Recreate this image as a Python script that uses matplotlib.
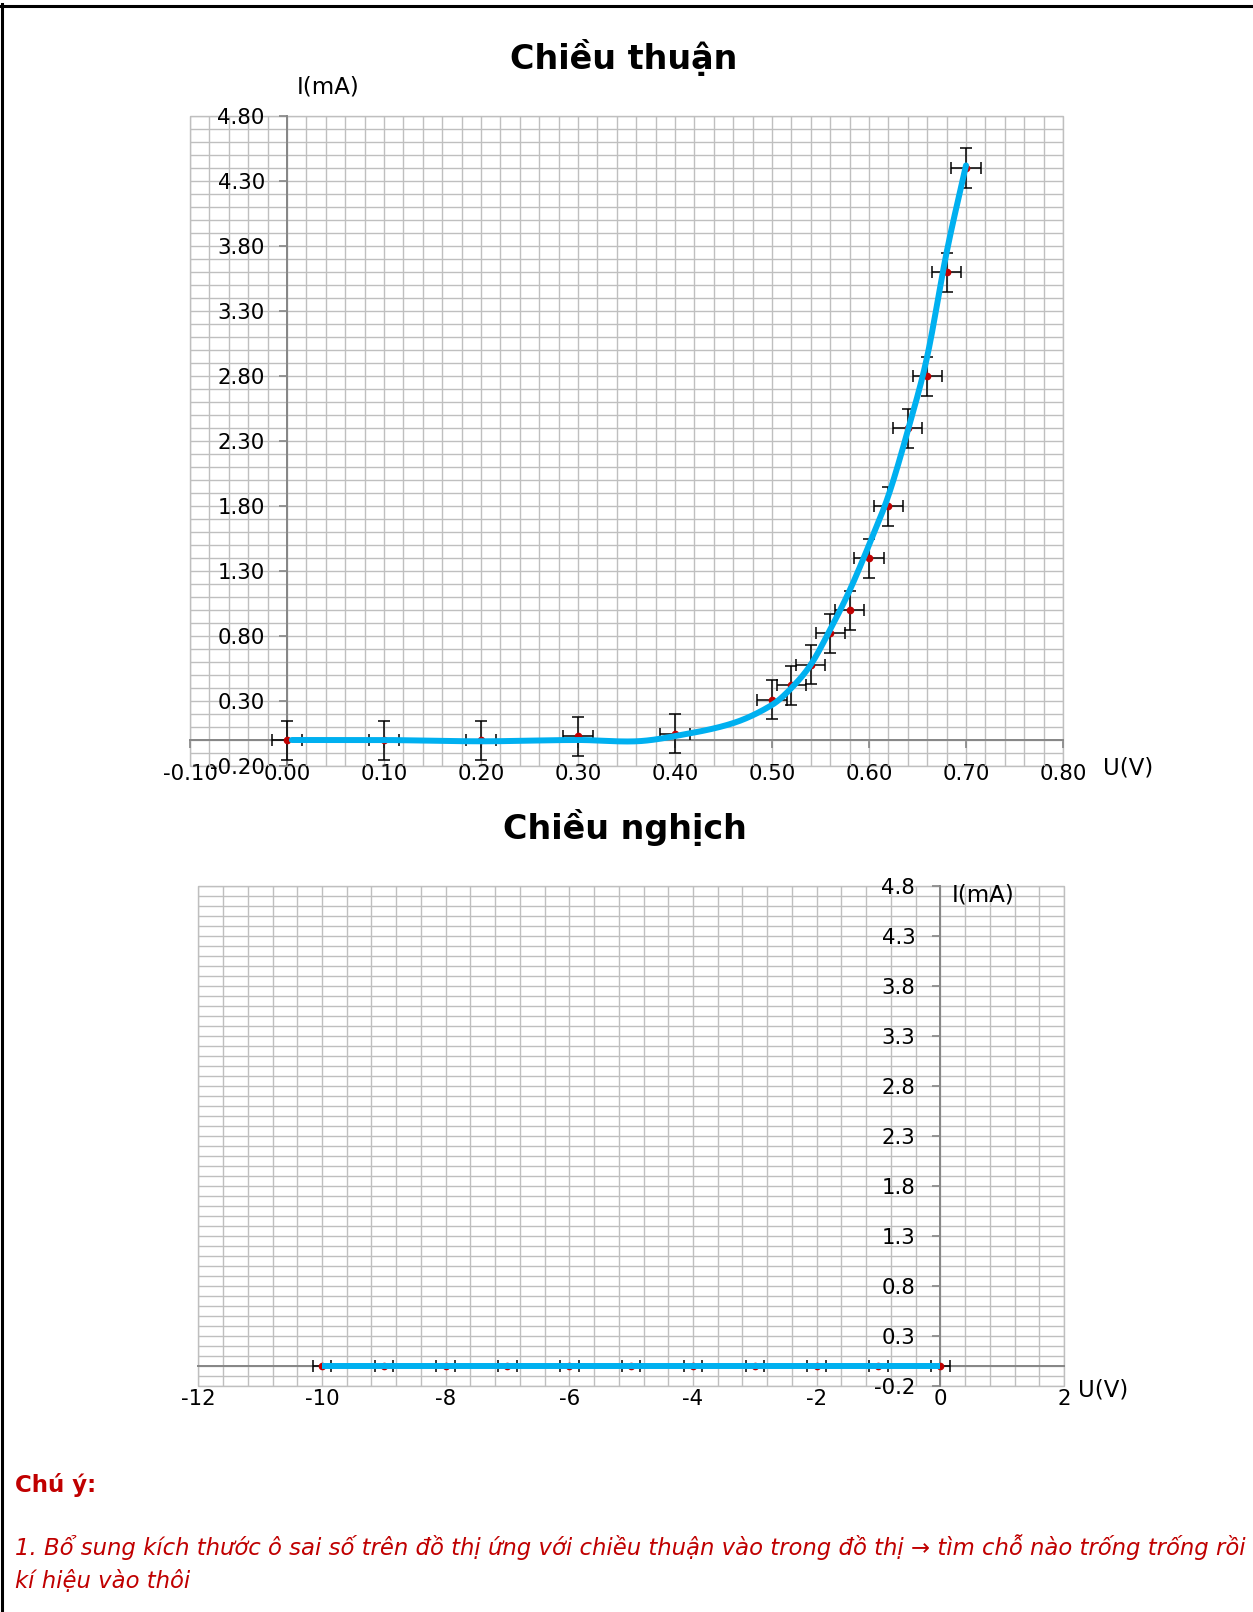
import numpy as np
import matplotlib
matplotlib.use("Agg")
import matplotlib.pyplot as plt
from matplotlib.ticker import MultipleLocator
from matplotlib.lines import Line2D
from matplotlib.patches import Rectangle

# ---------------- data ----------------
# forward bias (Chiều thuận) measured points
fwd_u = [0.00, 0.10, 0.20, 0.30, 0.40, 0.50, 0.52, 0.54, 0.56, 0.58, 0.60, 0.62, 0.64, 0.66, 0.68, 0.70]
fwd_i = [0.00, 0.00, 0.00, 0.03, 0.05, 0.31, 0.42, 0.58, 0.82, 1.00, 1.40, 1.80, 2.40, 2.80, 3.60, 4.40]
fwd_u_err = 0.015
fwd_i_err = 0.15

# hand-drawn smooth curve
curve_u = [0.005, 0.10, 0.20, 0.30, 0.36, 0.40, 0.46, 0.50, 0.52, 0.54, 0.56, 0.58, 0.60, 0.62, 0.64, 0.66, 0.68, 0.70]
curve_i = [0.00, 0.00, -0.01, 0.00, -0.01, 0.03, 0.13, 0.27, 0.40, 0.58, 0.85, 1.15, 1.50, 1.88, 2.38, 2.95, 3.75, 4.42]

fwd_xticks = [-0.10, 0.00, 0.10, 0.20, 0.30, 0.40, 0.50, 0.60, 0.70, 0.80]
fwd_yticks = [-0.20, 0.30, 0.80, 1.30, 1.80, 2.30, 2.80, 3.30, 3.80, 4.30, 4.80]

# reverse bias (Chiều nghịch)
rev_u = [-10, -9, -8, -7, -6, -5, -4, -3, -2, -1, 0]
rev_i = [0, 0, 0, 0, 0, 0, 0, 0, 0, 0, 0]
rev_u_err = 0.15

rev_xticks = [-12, -10, -8, -6, -4, -2, 0, 2]
rev_yticks = [-0.2, 0.3, 0.8, 1.3, 1.8, 2.3, 2.8, 3.3, 3.8, 4.3, 4.8]

title_fwd = "Chiều thuận"
title_rev = "Chiều nghịch"
note_head = "Chú ý:"
note_line1 = "1. Bổ sung kích thước ô sai số trên đồ thị ứng với chiều thuận vào trong đồ thị → tìm chỗ nào trống trống rồi"
note_line2 = "kí hiệu vào thôi"

# ---------------- style ----------------
W, H = 1253, 1612
BLUE = "#00B0F0"
RED = "#C00000"
GRID = "#BFBFBF"
AXC = "#868686"
TICK_FS = 15.3

plt.rcParams['font.family'] = ['DejaVu Sans']


def catmull(xs, ys, n=40):
    xs = np.asarray(xs, float)
    ys = np.asarray(ys, float)
    m = np.zeros_like(ys)
    m[1:-1] = (ys[2:] - ys[:-2]) / (xs[2:] - xs[:-2])
    m[0] = (ys[1] - ys[0]) / (xs[1] - xs[0])
    m[-1] = (ys[-1] - ys[-2]) / (xs[-1] - xs[-2])
    ox, oy = [], []
    for k in range(len(xs) - 1):
        h = xs[k + 1] - xs[k]
        t = np.linspace(0, 1, n, endpoint=False)
        h00 = 2 * t**3 - 3 * t**2 + 1
        h10 = t**3 - 2 * t**2 + t
        h01 = -2 * t**3 + 3 * t**2
        h11 = t**3 - t**2
        ox.append(xs[k] + t * h)
        oy.append(h00 * ys[k] + h10 * h * m[k] + h01 * ys[k + 1] + h11 * h * m[k + 1])
    ox.append([xs[-1]])
    oy.append([ys[-1]])
    return np.concatenate(ox), np.concatenate(oy)


def px_axes(l, t, r, b):
    return [l / W, 1 - b / H, (r - l) / W, (b - t) / H]


def style_axes(ax, xminor, yminor, ypad, xpad, xticklen):
    for s in ('top', 'right'):
        ax.spines[s].set_visible(False)
    ax.spines['left'].set_position(('data', 0))
    ax.spines['bottom'].set_position(('data', 0))
    for s in ('left', 'bottom'):
        ax.spines[s].set_color(AXC)
        ax.spines[s].set_linewidth(1.4)
        ax.spines[s].set_zorder(2)
    ax.xaxis.set_minor_locator(MultipleLocator(xminor))
    ax.yaxis.set_minor_locator(MultipleLocator(yminor))
    ax.grid(which='both', color=GRID, linewidth=1.0, zorder=0)
    ax.set_axisbelow(True)
    ax.tick_params(which='minor', length=0)
    ax.tick_params(axis='y', which='major', direction='out', length=6, width=1.2,
                   color=AXC, pad=ypad, labelsize=TICK_FS)
    ax.tick_params(axis='x', which='major', direction='out', length=xticklen, width=1.2,
                   color=AXC, pad=xpad, labelsize=TICK_FS)
    ax.add_patch(Rectangle((0, 0), 1, 1, transform=ax.transAxes, fill=False,
                           edgecolor=GRID, linewidth=1.0, clip_on=False, zorder=0.5))


fig = plt.figure(figsize=(W / 100, H / 100), dpi=100)

# ---------------- forward chart ----------------
ax1 = fig.add_axes(px_axes(190, 116, 1063, 766))
ax1.set_xlim(-0.1, 0.8)
ax1.set_ylim(-0.2, 4.8)
style_axes(ax1, 0.02, 0.1, ypad=10, xpad=11, xticklen=6)
ax1.set_xticks(fwd_xticks, labels=[f"{v:.2f}" for v in fwd_xticks])
ax1.set_yticks(fwd_yticks, labels=[f"{v:.2f}" for v in fwd_yticks])

ax1.errorbar(fwd_u, fwd_i, xerr=fwd_u_err, yerr=fwd_i_err, fmt='o', color=RED,
             markersize=4.5, ecolor='black', elinewidth=1.1, capsize=4, capthick=1.1,
             zorder=3)
cx, cy = catmull(curve_u, curve_i)
ax1.plot(cx, cy, color=BLUE, linewidth=4.3, solid_capstyle='round', zorder=4)

# ---------------- reverse chart ----------------
ax2 = fig.add_axes(px_axes(198.3, 885.7, 1064, 1385.8))
ax2.set_xlim(-12, 2)
ax2.set_ylim(-0.2, 4.8)
style_axes(ax2, 0.4, 0.1, ypad=12, xpad=17, xticklen=0)
ax2.set_xticks(rev_xticks, labels=[f"{v:d}" for v in rev_xticks])
ax2.set_yticks(rev_yticks, labels=[f"{v:.1f}" for v in rev_yticks])

ax2.errorbar(rev_u, rev_i, xerr=rev_u_err, fmt='o', color=RED, markersize=4.5,
             ecolor='black', elinewidth=1.1, capsize=4, capthick=1.1, zorder=3)
ax2.plot(rev_u, rev_i, color=BLUE, linewidth=4.3, solid_capstyle='butt', zorder=4)


# ---------------- texts ----------------
def ftext(x, y, s, **kw):
    fig.text(x / W, 1 - y / H, s, **kw)


ftext(624, 58, title_fwd, fontsize=24, fontweight='bold', ha='center', va='center')
ftext(625, 828, title_rev, fontsize=24, fontweight='bold', ha='center', va='center')
ftext(328, 87, "I(mA)", fontsize=16.5, ha='center', va='center')
ftext(1128, 768, "U(V)", fontsize=16.5, ha='center', va='center')
ftext(983, 895, "I(mA)", fontsize=16.5, ha='center', va='center')
ftext(1103, 1390, "U(V)", fontsize=16.5, ha='center', va='center')

ftext(15, 1485, note_head, fontsize=16.5, fontweight='bold', color=RED, ha='left', va='center')
ftext(15, 1547, note_line1, fontsize=16.4, style='italic', color=RED, ha='left', va='center')
ftext(15, 1581, note_line2, fontsize=16.4, style='italic', color=RED, ha='left', va='center')

# page border (top and left)
fig.add_artist(Line2D([0, 1], [1 - 5.5 / H, 1 - 5.5 / H], color='black', linewidth=2.2,
                      transform=fig.transFigure))
fig.add_artist(Line2D([1.5 / W, 1.5 / W], [0, 1 - 4 / H], color='black', linewidth=2.2,
                      transform=fig.transFigure))

fig.savefig("out.png", dpi=100, facecolor='white')
